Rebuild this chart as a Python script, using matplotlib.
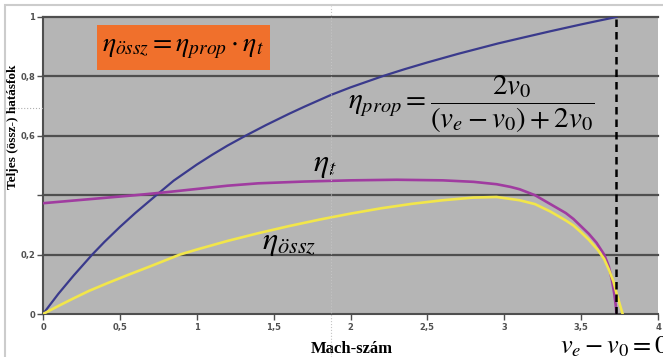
import matplotlib.pyplot as plt
from matplotlib.patches import Rectangle
from matplotlib.lines import Line2D

# Mach number vs. efficiency values
mach_prop = [0, 0.1, 0.2, 0.32, 0.4, 0.5, 0.6, 0.73, 0.85, 1.0, 1.1, 1.2, 1.32, 1.45, 1.6, 1.7, 1.87,
             2.0, 2.21, 2.35, 2.5, 2.7, 2.96, 3.1, 3.3, 3.5, 3.6, 3.73]
eta_prop = [0, 0.068, 0.13, 0.2, 0.243, 0.293, 0.34, 0.397, 0.449, 0.503, 0.536, 0.567, 0.601, 0.636,
            0.674, 0.698, 0.737, 0.763, 0.801, 0.824, 0.847, 0.876, 0.911, 0.928, 0.952, 0.975,
            0.986, 1.0]

mach_t = [0, 0.2, 0.4, 0.6, 0.8, 1.0, 1.2, 1.4, 1.7, 2.0, 2.3, 2.6, 2.8, 2.95, 3.04, 3.1, 3.2, 3.3,
          3.4, 3.45, 3.5, 3.55, 3.6, 3.65, 3.68, 3.7, 3.715, 3.725, 3.73]
eta_t = [0.373, 0.382, 0.391, 0.4, 0.41, 0.421, 0.432, 0.44, 0.446, 0.45, 0.452, 0.45, 0.445, 0.437,
         0.428, 0.42, 0.40, 0.37, 0.34, 0.32, 0.295, 0.27, 0.24, 0.2, 0.16, 0.115, 0.07, 0.03, 0.0]

mach_ossz = [0, 0.1, 0.2, 0.3, 0.42, 0.55, 0.7, 0.89, 1.0, 1.2, 1.4, 1.6, 1.8, 2.0, 2.2, 2.4, 2.6,
             2.8, 2.95, 3.1, 3.2, 3.3, 3.4, 3.45, 3.5, 3.55, 3.61, 3.65, 3.68, 3.71, 3.73, 3.75, 3.77]
eta_ossz = [0, 0.027, 0.053, 0.078, 0.104, 0.131, 0.161, 0.2, 0.217, 0.246, 0.272, 0.296, 0.318,
            0.338, 0.356, 0.371, 0.383, 0.392, 0.394, 0.383, 0.37, 0.345, 0.315, 0.298, 0.275,
            0.25, 0.215, 0.185, 0.15, 0.11, 0.07, 0.035, 0.0]

mach_limit = 3.73

x_ticks = [0, 0.5, 1, 1.5, 2, 2.5, 3, 3.5, 4]
x_labels = ['0', '0,5', '1', '1,5', '2', '2,5', '3', '3,5', '4']
y_ticks = [0, 0.2, 0.4, 0.6, 0.8, 1]
y_labels = ['0', '0,2', '', '0,6', '0,8', '1']

plt.rcParams['mathtext.fontset'] = 'stix'

W, H = 663, 357
fig = plt.figure(figsize=(W / 100, H / 100), dpi=100)
fig.patch.set_facecolor('white')

# light outer frame
fig.add_artist(Rectangle((5 / W, -0.02), 1.0, 1 - 5 / H + 0.02, transform=fig.transFigure,
                         fill=False, edgecolor='#cccccc', lw=1.5))
# faint dotted screenshot guides
fig.add_artist(Line2D([331 / W, 331 / W], [0, 1 - 6 / H], transform=fig.transFigure,
                      color='#c4c4c4', lw=0.8, ls=':', zorder=5))
fig.add_artist(Line2D([6 / W, 43 / W], [1 - 108 / H, 1 - 108 / H], transform=fig.transFigure,
                      color='#b0b0b0', lw=0.8, ls=':'))

ax = fig.add_axes([43 / W, 43 / H, 615 / W, 297 / H])
ax.set_facecolor('#b5b5b5')
ax.set_xlim(0, 4)
ax.set_ylim(0, 1)

for y in y_ticks[1:]:
    ax.axhline(y, color='#4f4f4f', lw=1.6, zorder=1, clip_on=False)

ax.plot(mach_prop, eta_prop, color='#3a3a8c', lw=1.6, zorder=3)
ax.plot(mach_t, eta_t, color='#a03ca0', lw=1.9, zorder=3)
ax.plot(mach_ossz, eta_ossz, color='#f2e64a', lw=1.9, zorder=3)
ax.plot([mach_limit, mach_limit], [0, 1], color='black', lw=1.8, ls=(0, (3, 2)), zorder=4)

ax.set_xticks(x_ticks)
ax.set_xticklabels(x_labels)
ax.set_yticks(y_ticks)
ax.set_yticklabels(y_labels)
ax.tick_params(axis='both', length=4, width=1, color='#4f4f4f', labelsize=6,
               labelcolor='#505050', pad=1.5)
ax.tick_params(axis='x', pad=2.5)
for lab in ax.get_xticklabels() + ax.get_yticklabels():
    lab.set_fontweight('bold')

for side in ['top', 'right']:
    ax.spines[side].set_visible(False)
for side in ['left', 'bottom']:
    ax.spines[side].set_color('#4f4f4f')
    ax.spines[side].set_linewidth(1.5)

# axis titles
fig.text(352 / W, 1 - 349 / H, 'Mach-szám', ha='center', va='center',
         family='Liberation Serif', weight='bold', fontsize=12)
fig.text(13 / W, 1 - 127 / H, 'Teljes (össz-) hatásfok', ha='center', va='center', rotation=90,
         family='Liberation Serif', weight='bold', fontsize=9.5)

# orange formula box
fig.add_artist(Rectangle((97 / W, 1 - 70 / H), 173 / W, 45 / H, transform=fig.transFigure,
                         facecolor='#f0702c', edgecolor='none'))
fig.text(183 / W, 1 - 47 / H, r'$\eta_{össz}=\eta_{prop}\cdot\eta_t$', ha='center', va='center',
         fontsize=20)

fig.text(471 / W, 1 - 104 / H, r'$\eta_{prop}=\dfrac{2v_0}{(v_e-v_0)+2v_0}$', ha='center',
         va='center', fontsize=21)
fig.text(325 / W, 1 - 165 / H, r'$\eta_t$', ha='center', va='center', fontsize=23)
fig.text(289 / W, 1 - 243 / H, r'$\eta_{össz}$', ha='center', va='center', fontsize=23)
fig.text(560 / W, 1 - 353 / H, r'$v_e-v_0=0$', ha='left', va='baseline', fontsize=19)

fig.savefig('out.png', dpi=100)
